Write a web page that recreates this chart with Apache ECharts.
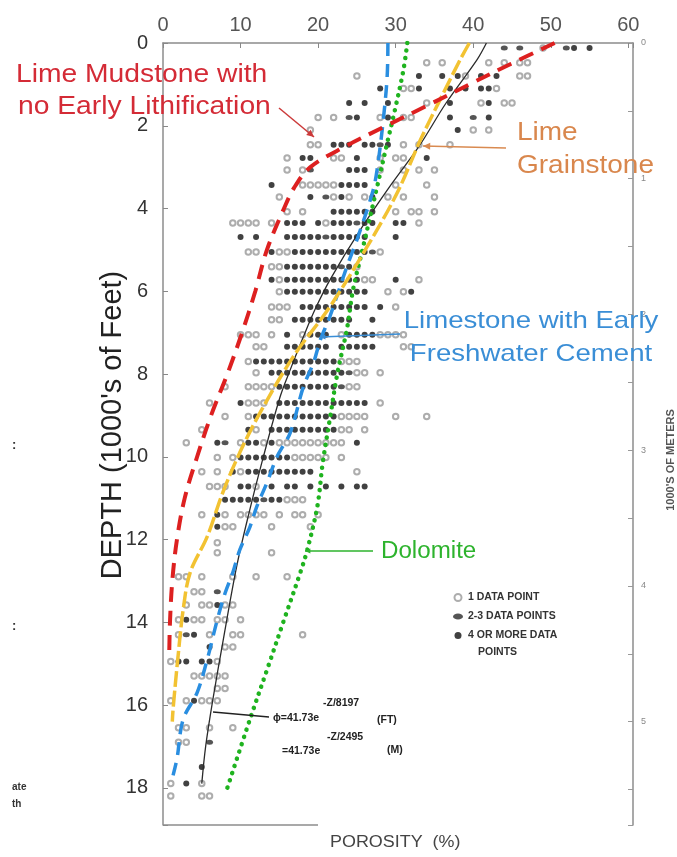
<!DOCTYPE html>
<html><head><meta charset="utf-8">
<script src="https://cdn.jsdelivr.net/npm/echarts@6/dist/echarts.min.js"></script>
<style>html,body{margin:0;padding:0;background:#fff}#c{width:677px;height:857px}</style>
</head><body><div id="c"></div>
<script>
// ---------- tick labels ----------
const porosityTicks = [0, 10, 20, 30, 40, 50, 60];
const depthTicks = [0, 2, 4, 6, 8, 10, 12, 14, 16, 18];
const meterTicks = [0, 1, 2, 3, 4, 5];

// ---------- curves (porosity %, depth in 1000's ft) ----------
const mudstoneDepth    = [0, 0.5, 1.0, 1.5, 2.0, 2.5, 3.0, 3.5, 4.0, 5.0, 6.0, 7.0, 8.0, 9.0, 10.0, 11.0, 12.0, 13.0, 14.0, 14.8];
const mudstonePorosity = [50.5, 44.9, 39.5, 34.2, 28.8, 23.5, 19.0, 16.9, 15.6, 13.4, 11.9, 10.2, 8.3, 6.2, 4.4, 2.8, 1.8, 1.2, 0.9, 0.8];

const grainstoneDepth    = [0, 0.41, 1.38, 2.34, 3.62, 4.93, 6.38, 7.58, 8.94, 9.9, 10.87, 11.93, 12.8, 13.7, 14.9, 16.1, 16.4];
const grainstonePorosity = [39.5, 38.3, 35.7, 33.2, 30.2, 26.3, 21.5, 16.8, 12.5, 9.9, 7.7, 5.7, 3.5, 2.6, 1.9, 1.3, 1.2];

const cementDepth    = [0, 0.82, 1.86, 3.07, 3.62, 4.76, 5.41, 6.62, 7.17, 7.73, 8.31, 9.42, 10.0, 10.63, 11.2, 11.7, 12.25, 12.8, 13.3, 13.94, 14.9, 15.7, 16.35, 17.3, 17.7];
const cementPorosity = [29.0, 28.9, 28.4, 27.6, 27.0, 25.0, 23.7, 21.5, 20.3, 19.4, 18.1, 16.4, 14.7, 13.4, 12.1, 11.2, 9.9, 9.0, 8.0, 7.0, 5.7, 4.4, 2.6, 1.8, 1.3];

const dolomiteDepth    = [0, 0.65, 1.62, 2.42, 3.48, 4.93, 5.97, 6.93, 7.97, 9.1, 10.14, 11.2, 12.25, 12.8, 14.0, 15.1, 16.35, 18.0];
const dolomitePorosity = [31.5, 31.0, 29.9, 28.9, 27.6, 25.8, 24.5, 23.7, 22.5, 21.5, 20.6, 19.9, 18.6, 17.7, 15.5, 13.5, 11.2, 8.3];

const fitDepth    = [0, 0.4, 1.45, 2.5, 3.4, 4.5, 5.7, 6.4, 7.1, 7.9, 8.55, 10.1, 11.35, 12.65, 14.5, 15.9, 17.0, 17.9];
const fitPorosity = [41.7, 40.5, 36.5, 33.0, 29.5, 25.5, 21.6, 19.7, 18.1, 16.4, 15.1, 12.8, 11.1, 9.5, 7.7, 6.4, 5.5, 5.0];

// ---------- data points: one row per depth; pattern char = 1% porosity step from rowStart
// 'o' = 1 data point, 'h' = 2-3 data points, 'x' = 4 or more, '.' = none
const rowDepth = [0.12, 0.48, 0.8, 1.1, 1.45, 1.8, 2.1, 2.46, 2.78, 3.07, 3.43, 3.72, 4.08, 4.35, 4.69, 5.05, 5.41, 5.72, 6.01, 6.38, 6.69, 7.05, 7.34, 7.7, 7.97, 8.31, 8.7, 9.03, 9.35, 9.66, 10.02, 10.36, 10.72, 11.04, 11.4, 11.69, 12.08, 12.32, 12.9, 13.26, 13.58, 13.94, 14.3, 14.6, 14.95, 15.3, 15.6, 15.9, 16.55, 16.9, 17.5, 17.9, 18.2];
const rowStart = [44, 34, 25, 28, 24, 20, 19, 19, 16, 16, 14, 15, 16, 9, 10, 11, 14, 14, 15, 14, 14, 10, 12, 11, 12, 8, 6, 8, 5, 3, 7, 5, 6, 8, 5, 7, 7, 7, 2, 4, 3, 2, 2, 6, 1, 4, 7, 1, 2, 2, 5, 1, 1];
const rowPattern = [
  "h.h..o..hx.x",
  "o.o.....o.o.oo",
  "o.......x..x.xo.x.x..oo",
  "x..oox...x.x.xxo",
  "x.x..x....o..x...ox.oo",
  "o.o.hx..ox.oo....x..h.x",
  "o..................x.o.o",
  "oo.xxx.xxhx.o.o...o",
  "o.xx..oo.x..o.oo..x",
  "o.oh....xxx.o..o.o.o",
  "x...oooooxxxx...o...o",
  "o...x.hoxo.ox.o.o...o",
  "o.o...xxxxxx..o.oo.o",
  "oooo.o.xxx.xoxxxhxx..xx.o",
  "x.x...xxxxxhxxxxx...x",
  "oo.xooxxxxxxxxxxho",
  "ooxxxxxxxhxo",
  "xoxxxxxxxxxxoo..x..o",
  "oxxxxxxxxxxx..o.ox",
  "ooo.xxxxxxxxx.x.o",
  "oo.xxxxxxxx..x",
  "ooo.o.x.oxxx.oxxxxoooo",
  "oo..xxxxxx.xxxxx...oo",
  "oxxxxxxxxxxxooo",
  "o.xxxxxxxxxxhoo.o",
  "o..ooooxxxxxxxxhoo",
  "o...xooo.xxxxxxxxxxxx.o",
  "o..oxxxxxxxxxxxoooo...o...o",
  "o.....xo.xxxxxxxxxoo.o",
  "o...xh.oxxoxooooooooo.x",
  "o.oxxxxxxxooooo.o",
  "o.o.xoxxxxxxxxx.....o",
  "ooo.xxo.x.xx.x.x.x.xx",
  "xxxxxhxxooo",
  "o.xo.oooo.o.oo.o",
  "xoo....o....o",
  "o",
  "o......o",
  "oo.o...o..o...o",
  "oo.h",
  "o.ooxoo",
  "oxoo.oo.o",
  "ohx.o..oo.......o",
  "x.oo",
  "oxx.xxo",
  "ooooo",
  "oo",
  "o.oxooo",
  "oo..o..o",
  "oo..h",
  "x",
  "o.x.o",
  "o...oo"
];

const seriesNames = ["1 DATA POINT", "2-3 DATA POINTS", "4 OR MORE DATA POINTS"];
const curveNames = ["Lime Mudstone with no Early Lithification", "Lime Grainstone", "Limestone with Early Freshwater Cement", "Dolomite", "Fit"];

// ---------- build ----------
const onePoint = [], twoThree = [], fourPlus = [];
rowPattern.forEach((pat, i) => {
  for (let k = 0; k < pat.length; k++) {
    const pt = [rowStart[i] + k, rowDepth[i]];
    if (pat[k] === 'o') onePoint.push(pt);
    else if (pat[k] === 'h') twoThree.push(pt);
    else if (pat[k] === 'x') fourPlus.push(pt);
  }
});
const pairs = (ps, ds) => ps.map((p, i) => [p, ds[i]]);
const FONT = '"Liberation Sans", Arial, sans-serif';
const ELLIPSE = 'path://M0,3 A5,3 0 1,1 10,3 A5,3 0 1,1 0,3 Z';
const isTick = (arr, v) => arr.some(t => Math.abs(t - v) < 1e-6);

function arrow(x1, y1, x2, y2, color, w, h) {
  const a = Math.atan2(y2 - y1, x2 - x1);
  const p1 = [x2 - h * Math.cos(a - 0.45), y2 - h * Math.sin(a - 0.45)];
  const p2 = [x2 - h * Math.cos(a + 0.45), y2 - h * Math.sin(a + 0.45)];
  return [
    {type: 'line', shape: {x1, y1, x2, y2}, style: {stroke: color, lineWidth: w}, z: 50},
    {type: 'polygon', shape: {points: [[x2, y2], p1, p2]}, style: {fill: color}, z: 50}
  ];
}
function txt(text, x, y, font, fill, align, sx, rot) {
  return {type: 'text', x, y, scaleX: sx || 1, rotation: rot || 0, z: 60,
    style: {text, font, fill, align: align || 'left', textAlign: align || 'left', verticalAlign: 'middle', textVerticalAlign: 'middle'}};
}

const lineSeries = (name, data, color, width, type, z, cap) => ({
  name, type: 'line', data, showSymbol: false, symbol: 'none', smooth: 0.35, z,
  lineStyle: {color, width, type, cap: cap || 'butt'}, silent: true
});

const chart = echarts.init(document.getElementById('c'));
chart.setOption({
  animation: false,
  backgroundColor: '#fff',
  textStyle: {fontFamily: FONT},
  grid: {left: 163, top: 43, width: 470, height: 782},
  xAxis: {
    type: 'value', position: 'top', min: 0, max: 60.6, interval: 10,
    axisLine: {show: true, onZero: false, lineStyle: {color: '#8c8c8c', width: 1.5}},
    axisTick: {inside: true, length: 5, lineStyle: {color: '#888'}},
    axisLabel: {margin: 8, fontSize: 20, color: '#555', fontFamily: FONT,
      formatter: v => isTick(porosityTicks, v) ? String(v) : ''},
    splitLine: {show: false}
  },
  yAxis: [
    {
      type: 'value', inverse: true, min: 0, max: 18.9, interval: 2, position: 'left',
      axisLine: {show: true, onZero: false, lineStyle: {color: '#8c8c8c', width: 1.5}},
      axisTick: {inside: true, length: 5, lineStyle: {color: '#888'}},
      axisLabel: {margin: 15, fontSize: 20, color: '#333', fontFamily: FONT,
        formatter: v => isTick(depthTicks, v) ? String(v) : ''},
      splitLine: {show: false}
    },
    {
      type: 'value', inverse: true, min: 0, max: 18.9 * 0.3048, interval: 0.5, position: 'right',
      axisLine: {show: true, onZero: false, lineStyle: {color: '#8c8c8c', width: 1.5}},
      axisTick: {inside: true, length: 5, lineStyle: {color: '#999'}},
      axisLabel: {margin: 8, fontSize: 9, color: '#888', fontFamily: FONT,
        formatter: v => isTick(meterTicks, v) ? String(v) : ''},
      splitLine: {show: false}
    }
  ],
  legend: {
    orient: 'vertical', left: 448, top: 587, itemWidth: 10, itemHeight: 7, itemGap: 8,
    selectedMode: false,
    textStyle: {fontSize: 10.5, fontWeight: 'bold', color: '#333', fontFamily: FONT},
    formatter: n => n === seriesNames[2] ? '4 OR MORE DATA' : n,
    data: [
      {name: seriesNames[0], icon: 'emptyCircle'},
      {name: seriesNames[1], icon: ELLIPSE},
      {name: seriesNames[2], icon: 'circle'}
    ]
  },
  series: [
    {name: seriesNames[0], type: 'scatter', data: onePoint, symbol: 'emptyCircle', symbolSize: 5.5, z: 2,
      itemStyle: {color: '#999', borderWidth: 1}, silent: true},
    {name: seriesNames[1], type: 'scatter', data: twoThree, symbol: ELLIPSE, symbolSize: [7, 5], z: 3,
      itemStyle: {color: '#2a2a2a'}, silent: true},
    {name: seriesNames[2], type: 'scatter', data: fourPlus, symbol: 'circle', symbolSize: 6, z: 3,
      itemStyle: {color: '#111'}, silent: true},
    lineSeries(curveNames[4], pairs(fitPorosity, fitDepth), '#2b2b2b', 1.3, 'solid', 4),
    lineSeries(curveNames[3], pairs(dolomitePorosity, dolomiteDepth), '#1fb31f', 4.5, [0.1, 7.5], 5, 'round'),
    lineSeries(curveNames[2], pairs(cementPorosity, cementDepth), '#2a8ee0', 3.5, [13, 8], 6),
    lineSeries(curveNames[1], pairs(grainstonePorosity, grainstoneDepth), '#f2c232', 3.5, [16, 4], 7),
    lineSeries(curveNames[0], pairs(mudstonePorosity, mudstoneDepth), '#dd2020', 4, [15, 9], 8)
  ],
  graphic: [
    txt("DEPTH (1000's of Feet)", 113, 425, '29px ' + FONT, '#222', 'center', 1, Math.PI / 2),
    txt("1000'S OF METERS", 671, 460, 'bold 11px ' + FONT, '#555', 'center', 1, Math.PI / 2),
    txt('POROSITY  (%)', 330, 843, '16px ' + FONT, '#444', 'left', 1.12),
    txt('Lime Mudstone with', 16, 75, '25px ' + FONT, '#d42b36', 'left', 1.13),
    txt('no Early Lithification', 18, 107, '25px ' + FONT, '#d42b36', 'left', 1.13),
    txt('Lime', 517, 133, '25px ' + FONT, '#d9874d', 'left', 1.12),
    txt('Grainstone', 517, 166, '25px ' + FONT, '#d9874d', 'left', 1.12),
    txt('Limestone with Early', 531, 321, '24px ' + FONT, '#3a8ed6', 'center', 1.15),
    txt('Freshwater Cement', 531, 354, '24px ' + FONT, '#3a8ed6', 'center', 1.15),
    txt('Dolomite', 381, 552, '23px ' + FONT, '#2db32d', 'left', 1.05),
    txt('POINTS', 478, 652, 'bold 10.5px ' + FONT, '#333', 'left'),
    txt('\u03d5=41.73e', 273, 718, 'bold 10.5px ' + FONT, '#222', 'left'),
    txt('-Z/8197', 323, 703, 'bold 10.5px ' + FONT, '#222', 'left'),
    txt('(FT)', 377, 720, 'bold 10.5px ' + FONT, '#222', 'left'),
    txt('=41.73e', 282, 751, 'bold 10.5px ' + FONT, '#222', 'left'),
    txt('-Z/2495', 327, 737, 'bold 10.5px ' + FONT, '#222', 'left'),
    txt('(M)', 387, 750, 'bold 10.5px ' + FONT, '#222', 'left'),
    txt(':', 12, 445, 'bold 13px ' + FONT, '#333', 'left'),
    txt(':', 12, 626, 'bold 13px ' + FONT, '#333', 'left'),
    txt('ate', 12, 787, 'bold 10px ' + FONT, '#333', 'left'),
    txt('th', 12, 804, 'bold 10px ' + FONT, '#333', 'left'),
    {type: 'line', shape: {x1: 163, y1: 825, x2: 318, y2: 825}, style: {stroke: '#8c8c8c', lineWidth: 1.5}, z: 40},
    {type: 'line', shape: {x1: 269, y1: 717, x2: 213, y2: 712}, style: {stroke: '#222', lineWidth: 1.3}, z: 50},
    ...arrow(279, 108, 314, 137, '#cc3a3a', 1.5, 8),
    ...arrow(506, 148, 423, 146, '#d98a50', 1.5, 8),
    ...arrow(400, 334, 320, 337, '#3a8ed6', 1.5, 6),
    ...arrow(373, 551, 305, 551, '#2db32d', 1.5, 6)
  ]
});
</script>
</body></html>
